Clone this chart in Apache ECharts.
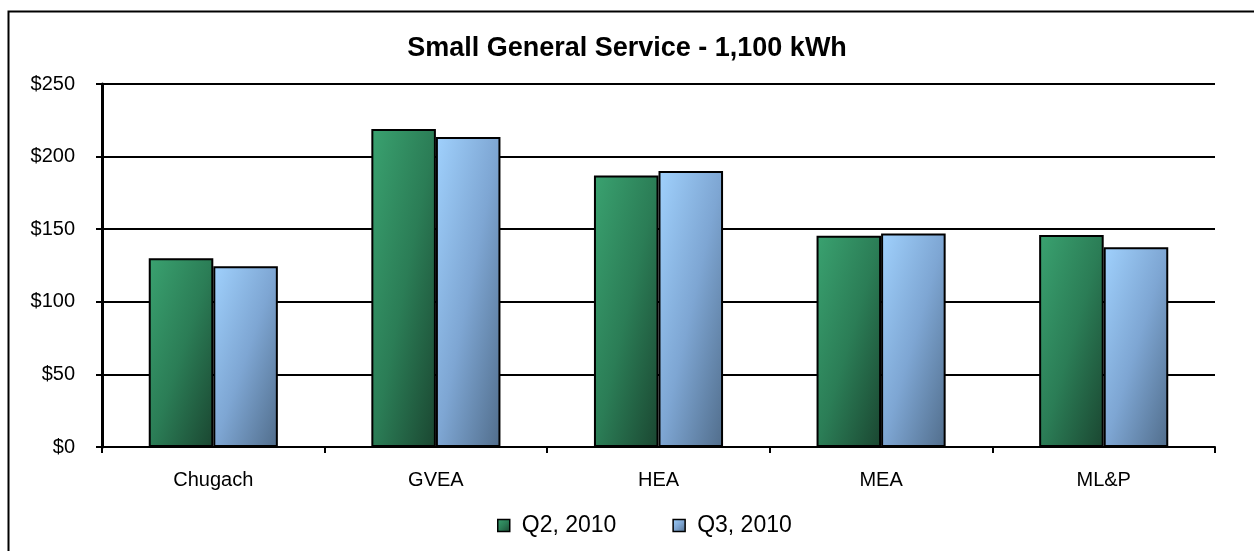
<!DOCTYPE html>
<html>
<head>
<meta charset="utf-8">
<script src="https://cdn.jsdelivr.net/npm/echarts@6/dist/echarts.min.js"></script>
<style>
html,body{margin:0;padding:0;background:#fff;}
#chart{width:1254px;height:551px;}
</style>
</head>
<body>
<div id="chart"></div>
<script>
const categories = ['Chugach', 'GVEA', 'HEA', 'MEA', 'ML&P'];
const q2Values = [130, 219, 187, 145.5, 146];
const q3Values = [124.5, 213.5, 190, 147, 137.5];
const seriesNames = ['Q2, 2010', 'Q3, 2010'];
const titleText = 'Small General Service - 1,100 kWh';

const chart = echarts.init(document.getElementById('chart'));
const font = 'Liberation Sans, Arial, sans-serif';

// diagonal gradient whose iso-lines run corner to corner (t = (x/w + y/h)/2)
function diagGrad(stops) {
  return function (params) {
    const w = 64;
    const h = Math.max(1, params.value / 250 * 363);
    const d = h * h + w * w;
    return new echarts.graphic.LinearGradient(0, 0, 2 * h * h / d, 2 * w * w / d, stops);
  };
}
const greenStops = [
  {offset: 0, color: '#3aa270'},
  {offset: 0.5, color: '#2b7d56'},
  {offset: 1, color: '#1a4530'}
];
const blueStops = [
  {offset: 0, color: '#a0d1fd'},
  {offset: 0.5, color: '#7ea6d3'},
  {offset: 1, color: '#506c8a'}
];
const legendGreen = new echarts.graphic.LinearGradient(0, 0, 1, 1, greenStops);
const legendBlue = new echarts.graphic.LinearGradient(0, 0, 1, 1, blueStops);

chart.setOption({
  backgroundColor: '#fff',
  animation: false,
  graphic: [{
    type: 'rect', left: 6, top: 9,
    shape: {width: 1300, height: 600},
    style: {fill: 'none', stroke: '#000', lineWidth: 2},
    z: -1
  }],
  title: {
    text: titleText, left: 'center', top: 30,
    textStyle: {fontFamily: font, fontSize: 27, fontWeight: 'bold', color: '#000'}
  },
  legend: {
    data: [
      {name: seriesNames[0], itemStyle: {color: legendGreen}},
      {name: seriesNames[1], itemStyle: {color: legendBlue}}
    ],
    top: 509, left: 492,
    itemWidth: 12, itemHeight: 12, itemGap: 56, icon: 'rect',
    itemStyle: {borderColor: '#000', borderWidth: 1.5},
    textStyle: {fontFamily: font, fontSize: 23, color: '#000', padding: [0, 0, 0, 7]}
  },
  grid: {left: 102, right: 39, top: 84, bottom: 104},
  xAxis: {
    type: 'category', data: categories,
    axisLine: {lineStyle: {color: '#000', width: 2}},
    axisTick: {show: true, length: 6, lineStyle: {color: '#000', width: 2}},
    axisLabel: {fontFamily: font, fontSize: 20, color: '#000', margin: 23}
  },
  yAxis: {
    type: 'value', min: 0, max: 250, interval: 50,
    axisLine: {show: true, lineStyle: {color: '#000', width: 3}},
    axisTick: {show: true, length: 6, lineStyle: {color: '#000', width: 2}},
    splitLine: {lineStyle: {color: '#000', width: 2}},
    axisLabel: {fontFamily: font, fontSize: 20, color: '#000', margin: 27, formatter: v => '$' + v}
  },
  series: [{
    name: seriesNames[0], type: 'bar', data: q2Values,
    barWidth: '29%', barGap: '0%',
    itemStyle: {color: diagGrad(greenStops), borderColor: '#000', borderWidth: 2}
  }, {
    name: seriesNames[1], type: 'bar', data: q3Values,
    barWidth: '29%', barGap: '0%',
    itemStyle: {color: diagGrad(blueStops), borderColor: '#000', borderWidth: 2}
  }]
});
</script>
</body>
</html>
